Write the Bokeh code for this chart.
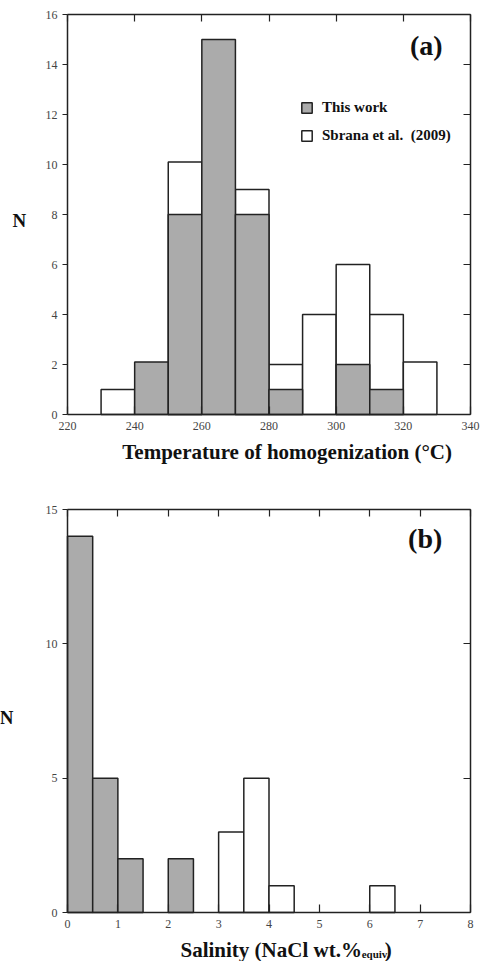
from bokeh.plotting import figure
from bokeh.layouts import column
from bokeh.models import LinearAxis, Range1d, FixedTicker, Label, Legend, LegendItem, ColumnDataSource
from bokeh.embed import file_html
from bokeh.resources import INLINE

# ---------------- data ----------------
# Panel (a): temperature of homogenization (°C), bins of 10 °C
temp_left = [230, 240, 250, 260, 270, 280, 290, 300, 310, 320]
temp_right = [240, 250, 260, 270, 280, 290, 300, 310, 320, 330]
this_work_a = [0, 2.1, 8, 15, 8, 1, 0, 2, 1, 0]
sbrana_a = [1, 0, 2.1, 0, 1, 1, 4, 4, 3, 2.1]
temp_ticks = [220, 240, 260, 280, 300, 320, 340]
n_ticks_a = [0, 2, 4, 6, 8, 10, 12, 14, 16]

# Panel (b): salinity (NaCl wt.% equiv.), bins of 0.5
sal_left = [0, 0.5, 1, 1.5, 2, 2.5, 3, 3.5, 4, 4.5, 5, 5.5, 6, 6.5, 7, 7.5]
sal_right = [0.5, 1, 1.5, 2, 2.5, 3, 3.5, 4, 4.5, 5, 5.5, 6, 6.5, 7, 7.5, 8]
this_work_b = [14, 5, 2, 0, 2, 0, 0, 0, 0, 0, 0, 0, 0, 0, 0, 0]
sbrana_b = [0, 0, 0, 0, 0, 0, 3, 5, 1, 0, 0, 0, 1, 0, 0, 0]
sal_ticks = [0, 1, 2, 3, 4, 5, 6, 7, 8]
n_ticks_b = [0, 5, 10, 15]

SERIF = "Liberation Serif"
GREY = "#ababab"
EDGE = "#222222"
TICK_COL = "#444444"
TXT = "#111111"
W = 480


def span(lo, hi, p0, p1, total):
    """Range so that data lo..hi falls on pixels p0..p1 of a canvas `total` long."""
    k = (hi - lo) / (p1 - p0)
    return lo - p0 * k, hi + (total - p1) * k


def yspan(lo, hi, top_px, bot_px, total):
    k = (hi - lo) / (bot_px - top_px)
    return lo - (total - bot_px) * k, hi + top_px * k


def add_box_axes(p, xlo, xhi, ylo, yhi, xticks, yticks):
    common = dict(minor_tick_line_color=None, axis_line_color=EDGE, axis_line_width=1.5,
                  major_tick_line_color=EDGE, major_tick_line_width=1.2,
                  major_label_text_font=SERIF, major_label_text_font_size="12px",
                  major_label_text_color=TICK_COL)
    below = LinearAxis(fixed_location=ylo, bounds=(xlo, xhi), ticker=FixedTicker(ticks=xticks),
                       major_tick_in=8, major_tick_out=0, major_label_standoff=7, **common)
    left = LinearAxis(fixed_location=xlo, bounds=(ylo, yhi), ticker=FixedTicker(ticks=yticks),
                      major_tick_in=0, major_tick_out=5, major_label_standoff=5, **common)
    hidden = dict(common, major_label_text_color=None)
    above = LinearAxis(fixed_location=yhi, bounds=(xlo, xhi), ticker=FixedTicker(ticks=xticks),
                       major_tick_in=7, major_tick_out=0, **hidden)
    right = LinearAxis(fixed_location=xhi, bounds=(ylo, yhi), ticker=FixedTicker(ticks=yticks),
                       major_tick_in=7, major_tick_out=0, **hidden)
    p.add_layout(below, "below")
    p.add_layout(left, "left")
    p.add_layout(above, "above")
    p.add_layout(right, "right")


def base_fig(h, xr, yr):
    p = figure(width=W, height=h, output_backend="svg", toolbar_location=None,
               x_axis_type=None, y_axis_type=None,
               x_range=Range1d(*xr), y_range=Range1d(*yr),
               min_border=0, min_border_left=0, min_border_right=0,
               min_border_top=0, min_border_bottom=0)
    p.xgrid.visible = False
    p.ygrid.visible = False
    p.outline_line_color = None
    return p


def bars(p, left, right, lower, upper, color):
    keep = [i for i in range(len(left)) if upper[i] > lower[i]]
    src = ColumnDataSource(dict(left=[left[i] for i in keep], right=[right[i] for i in keep],
                                top=[upper[i] for i in keep]))
    return p.quad(left="left", right="right", top="top", bottom=0, source=src,
                  fill_color=color, line_color=EDGE, line_width=1.5)


def txt(p, x, y, text, size, align="left", bold=True):
    p.add_layout(Label(x=x, y=y, text=text, text_font=SERIF,
                       text_font_style="bold" if bold else "normal",
                       text_font_size=size, text_align=align, text_baseline="middle",
                       text_color=TXT))


# ---------------- panel (a) ----------------
HA = 480
pa = base_fig(HA, span(220, 340, 67, 470, W), yspan(0, 16, 14, 414, HA))
tot_a = [t + s for t, s in zip(this_work_a, sbrana_a)]
r_white_a = bars(pa, temp_left, temp_right, this_work_a, tot_a, "white")
r_grey_a = bars(pa, temp_left, temp_right, [0] * len(this_work_a), this_work_a, GREY)
add_box_axes(pa, 220, 340, 0, 16, temp_ticks, n_ticks_a)

legend = Legend(items=[LegendItem(label="This work", renderers=[r_grey_a]),
                       LegendItem(label="Sbrana et al.  (2009)", renderers=[r_white_a])],
                location=(300, HA - 144), padding=0, margin=0, spacing=11,
                glyph_width=13, glyph_height=13, label_height=13, label_standoff=9,
                label_text_font=SERIF, label_text_font_style="bold",
                label_text_font_size="15px", label_text_color=TXT,
                border_line_color=None, background_fill_alpha=0)
pa.add_layout(legend)

txt(pa, 331.7, 14.76, "(a)", "28px", align="right")
txt(pa, 205.7, 7.76, "N", "19px", align="center")
txt(pa, 285.4, -1.48, "Temperature of homogenization (°C)", "21px", align="center")

# ---------------- panel (b) ----------------
HB = 481
pb = base_fig(HB, span(0, 8, 67, 470, W), yspan(0, 15, 29, 432, HB))
tot_b = [t + s for t, s in zip(this_work_b, sbrana_b)]
bars(pb, sal_left, sal_right, this_work_b, tot_b, "white")
bars(pb, sal_left, sal_right, [0] * len(this_work_b), this_work_b, GREY)
add_box_axes(pb, 0, 8, 0, 15, sal_ticks, n_ticks_b)

txt(pb, 7.44, 13.92, "(b)", "28px", align="right")
txt(pb, -1.21, 7.26, "N", "19px", align="center")
txt(pb, 2.243, -1.414, "Salinity (NaCl wt.%", "21px")
txt(pb, 5.84, -1.53, "equiv.", "11px")
txt(pb, 6.30, -1.414, ")", "21px")

layout = column(pa, pb, spacing=0)
open("out.html", "w").write(file_html(layout, INLINE))
